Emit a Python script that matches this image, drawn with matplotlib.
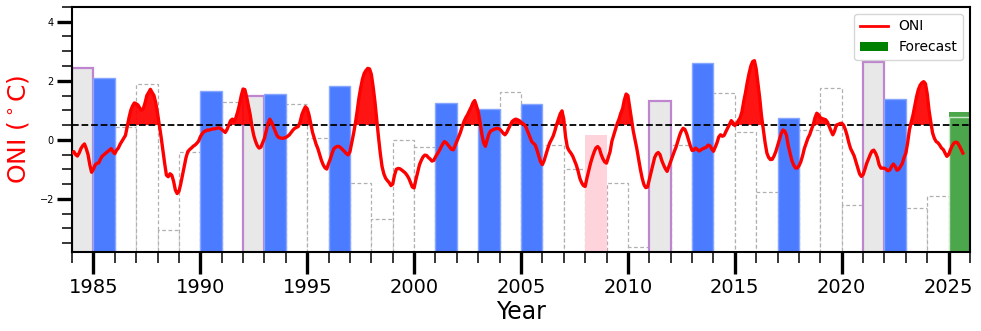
import numpy as np
import matplotlib
matplotlib.use("Agg")
import matplotlib.pyplot as plt
from matplotlib.ticker import MultipleLocator
from matplotlib.lines import Line2D
from matplotlib.patches import Patch

# monthly ONI values, starting Jan 1984
oni_start = 1984
oni = [
    -0.45, -0.4, -0.5, -0.55, -0.45, -0.3, -0.2, -0.14, -0.3, -0.5, -0.85, -1.1,   # 1984
    -1.0, -0.85, -0.8, -0.78, -0.65, -0.55, -0.5, -0.45, -0.4, -0.35, -0.3, -0.4,  # 1985
    -0.47, -0.35, -0.28, -0.15, -0.05, 0.05, 0.15, 0.45, 0.75, 1.0, 1.15, 1.25,    # 1986
    1.22, 1.18, 1.08, 1.0, 1.05, 1.25, 1.5, 1.6, 1.71, 1.6, 1.5, 1.25,             # 1987
    0.9, 0.5, 0.1, -0.35, -0.8, -1.2, -1.25, -1.15, -1.2, -1.4, -1.7, -1.82,       # 1988
    -1.75, -1.5, -1.2, -0.9, -0.6, -0.4, -0.33, -0.28, -0.22, -0.18, -0.12, -0.05, # 1989
    0.1, 0.2, 0.27, 0.3, 0.33, 0.33, 0.35, 0.37, 0.37, 0.39, 0.4, 0.4,             # 1990
    0.35, 0.3, 0.25, 0.35, 0.5, 0.65, 0.7, 0.62, 0.75, 0.95, 1.2, 1.5,             # 1991
    1.72, 1.7, 1.45, 1.15, 0.85, 0.45, 0.15, -0.05, -0.2, -0.28, -0.25, -0.1,      # 1992
    0.05, 0.3, 0.55, 0.7, 0.6, 0.45, 0.3, 0.15, 0.08, 0.06, 0.05, 0.06,            # 1993
    0.08, 0.12, 0.17, 0.25, 0.33, 0.39, 0.42, 0.45, 0.6, 0.85, 1.0, 1.12,          # 1994
    1.05, 0.85, 0.55, 0.25, 0.05, -0.15, -0.3, -0.5, -0.7, -0.85, -0.95, -0.99,    # 1995
    -0.8, -0.65, -0.45, -0.3, -0.25, -0.22, -0.23, -0.28, -0.34, -0.4, -0.47, -0.51,  # 1996
    -0.4, -0.1, 0.2, 0.55, 0.95, 1.4, 1.75, 2.05, 2.25, 2.35, 2.42, 2.4,           # 1997
    2.22, 1.8, 1.3, 0.7, 0.1, -0.45, -0.9, -1.15, -1.3, -1.38, -1.45, -1.55,       # 1998
    -1.5, -1.2, -1.0, -0.97, -0.98, -1.02, -1.07, -1.12, -1.2, -1.3, -1.45, -1.6,  # 1999
    -1.63, -1.35, -1.1, -0.85, -0.7, -0.58, -0.52, -0.53, -0.6, -0.65, -0.72, -0.7,   # 2000
    -0.58, -0.48, -0.38, -0.26, -0.15, -0.06, -0.1, -0.17, -0.25, -0.32, -0.34, -0.2, # 2001
    -0.05, 0.1, 0.25, 0.45, 0.62, 0.75, 0.85, 0.98, 1.1, 1.25, 1.33, 1.15,         # 2002
    0.95, 0.6, 0.2, -0.1, -0.22, 0.0, 0.2, 0.3, 0.33, 0.36, 0.38, 0.39,            # 2003
    0.36, 0.3, 0.22, 0.17, 0.25, 0.38, 0.5, 0.62, 0.67, 0.7, 0.68, 0.65,           # 2004
    0.6, 0.55, 0.5, 0.4, 0.25, 0.1, -0.06, -0.12, -0.18, -0.35, -0.56, -0.75,      # 2005
    -0.84, -0.7, -0.5, -0.3, -0.12, 0.0, 0.12, 0.3, 0.52, 0.7, 0.88, 0.98,         # 2006
    0.7, 0.1, -0.25, -0.37, -0.45, -0.55, -0.7, -0.85, -1.05, -1.3, -1.45, -1.55,  # 2007
    -1.58, -1.3, -1.05, -0.8, -0.6, -0.42, -0.28, -0.23, -0.3, -0.5, -0.65, -0.75, # 2008
    -0.79, -0.6, -0.4, -0.05, 0.15, 0.35, 0.55, 0.7, 0.9, 1.05, 1.35, 1.55,        # 2009
    1.5, 1.1, 0.7, 0.3, 0.0, -0.3, -0.65, -1.0, -1.3, -1.52, -1.62, -1.6,          # 2010
    -1.35, -1.1, -0.85, -0.6, -0.48, -0.43, -0.5, -0.7, -0.85, -0.98, -1.07, -0.9, # 2011
    -0.72, -0.55, -0.4, -0.25, -0.05, 0.15, 0.3, 0.39, 0.35, 0.2, 0.0, -0.2,       # 2012
    -0.36, -0.35, -0.28, -0.33, -0.38, -0.34, -0.3, -0.28, -0.25, -0.18, -0.2, -0.3,  # 2013
    -0.39, -0.25, -0.1, 0.1, 0.17, 0.12, 0.15, 0.28, 0.4, 0.52, 0.65, 0.58,        # 2014
    0.48, 0.55, 0.65, 0.75, 0.95, 1.3, 1.6, 1.95, 2.25, 2.5, 2.65, 2.68,           # 2015
    2.4, 1.9, 1.4, 0.8, 0.35, -0.1, -0.45, -0.6, -0.67, -0.66, -0.55, -0.4,        # 2016
    -0.2, 0.0, 0.2, 0.33, 0.3, 0.15, -0.2, -0.45, -0.7, -0.85, -0.95, -0.96,       # 2017
    -0.88, -0.75, -0.55, -0.3, -0.12, 0.05, 0.17, 0.35, 0.51, 0.75, 0.9, 0.85,     # 2018
    0.75, 0.72, 0.7, 0.68, 0.6, 0.45, 0.3, 0.17, 0.3, 0.5, 0.52, 0.55,             # 2019
    0.56, 0.5, 0.35, 0.15, -0.1, -0.3, -0.42, -0.55, -0.75, -0.95, -1.15, -1.24,   # 2020
    -1.18, -1.0, -0.8, -0.65, -0.5, -0.38, -0.35, -0.45, -0.6, -0.85, -0.96, -0.96,   # 2021
    -0.96, -1.0, -1.05, -1.02, -0.9, -0.82, -0.9, -1.03, -1.0, -0.9, -0.8, -0.6,   # 2022
    -0.45, -0.1, 0.34, 0.6, 0.84, 1.15, 1.46, 1.7, 1.85, 1.93, 1.97, 1.9,          # 2023
    1.55, 1.0, 0.6, 0.23, 0.05, -0.06, -0.1, -0.18, -0.28, -0.33, -0.45, -0.56,    # 2024
    -0.5, -0.34, -0.2, -0.11, -0.08, -0.1, -0.2, -0.32, -0.45,                     # 2025
]

# yearly bars
bar_years = list(range(1984, 2026))
bar_vals = [2.43, 2.08, 0.45, 1.90, -3.05, -0.43, 1.67, 1.27, 1.47, 1.56,
            1.20, 0.06, 1.81, -1.45, -2.68, -0.02, -0.26, 1.23, np.nan, 1.06,
            1.62, 1.21, -0.18, -1.00, 0.17, -1.48, -3.64, 1.31, -0.17, 2.61,
            1.57, 0.28, -1.77, 0.75, 0.34, 1.75, -2.21, 2.65, 1.38, -2.30,
            -1.89, 0.78]
blue_years = [1985, 1990, 1993, 1996, 2001, 2003, 2005, 2013, 2017, 2022]
grey_years = [1984, 1992, 2011, 2021]
pink_years = [2008]
forecast_year = 2025
forecast_val = 0.93
threshold = 0.5

ymin, ymax = -3.8, 4.5
base = -4.0

fig = plt.figure(figsize=(9.81, 3.31), dpi=100)
ax = fig.add_axes([0.0734, 0.2387, 0.9154, 0.7403])

for yr, v in zip(bar_years, bar_vals):
    if yr in blue_years:
        ax.bar(yr, v - base, bottom=base, width=1, align="edge",
               color="#4b7bff", edgecolor="#86a6ff", linewidth=1, zorder=2)
    elif yr in grey_years:
        ax.bar(yr, v - base, bottom=base, width=1, align="edge",
               color="#e8e8e8", edgecolor="#bf86cf", linewidth=1.6, zorder=2)
    elif yr in pink_years:
        ax.bar(yr, v - base, bottom=base, width=1, align="edge",
               color="#ffd3db", edgecolor="none", zorder=2)
    elif yr == forecast_year:
        ax.bar(yr, forecast_val - base, bottom=base, width=1, align="edge",
               color="green", alpha=0.7, edgecolor="none", zorder=2)
        ax.bar(yr, v - base, bottom=base, width=1, align="edge",
               fill=False, edgecolor="#cfe9cf", linewidth=1, zorder=2.1)
    else:
        ax.bar(yr, v - base, bottom=base, width=1, align="edge",
               color="white", edgecolor="#b0b0b0", linestyle=(0, (3, 2)),
               linewidth=0.9, zorder=1.5)

oni = np.array(oni)
x = oni_start + np.arange(len(oni)) / 12.0
ax.fill_between(x, threshold, oni, where=oni > threshold, interpolate=True,
                color="red", alpha=0.92, linewidth=0, zorder=3)
ax.plot(x, oni, color="red", linewidth=2.4, zorder=4)
ax.axhline(threshold, color="black", linestyle="--", linewidth=1.3, zorder=3.5)

ax.set_xlim(1984, 2026)
ax.set_ylim(ymin, ymax)
ax.xaxis.set_major_locator(MultipleLocator(5))
ax.xaxis.set_minor_locator(MultipleLocator(1))
ax.yaxis.set_major_locator(MultipleLocator(2))
ax.yaxis.set_minor_locator(MultipleLocator(0.5))

ax.tick_params(axis="x", which="major", length=16, width=2.4, labelsize=14, pad=3)
ax.tick_params(axis="x", which="minor", length=8, width=1.1)
ax.tick_params(axis="y", which="major", length=11, width=2.4, labelsize=7, pad=2)
ax.tick_params(axis="y", which="minor", length=7, width=1.1)
for s in ax.spines.values():
    s.set_linewidth(1.5)

ax.set_xlabel("Year", fontsize=17, labelpad=2)
ax.set_ylabel(r"ONI ($^\circ$C)", fontsize=18, color="red", labelpad=6)

handles = [Line2D([0], [0], color="red", linewidth=2),
           Patch(facecolor="green")]
ax.legend(handles, ["ONI", "Forecast"], loc="upper right", fontsize=10)

fig.savefig("out.png", dpi=100)
